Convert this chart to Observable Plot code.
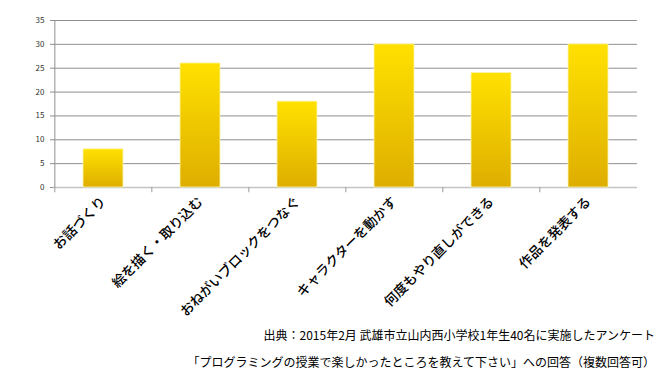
<!DOCTYPE html>
<html><head><meta charset="utf-8">
<script src="https://cdn.jsdelivr.net/npm/d3@7"></script>
<script src="https://cdn.jsdelivr.net/npm/@observablehq/plot@0.6"></script>
<style>
body{margin:0;background:#fff;font-family:"Noto Sans CJK JP","Noto Sans",sans-serif;}
#wrap{position:relative;width:662px;height:374px;}
.cap{position:absolute;right:7px;font-size:12px;color:#000;white-space:nowrap;}
</style></head>
<body><div id="wrap"></div>
<script>
const categories = ["お話づくり","絵を描く・取り込む","おねがいブロックをつなぐ","キャラクターを動かす","何度もやり直しができる","作品を発表する"];
const values = [8, 26, 18, 30, 24, 30];
const yTicks = [0, 5, 10, 15, 20, 25, 30, 35];
const caption1 = "出典：2015年2月 武雄市立山内西小学校1年生40名に実施したアンケート";
const caption2 = "「プログラミングの授業で楽しかったところを教えて下さい」への回答（複数回答可）";

const data = categories.map((c, i) => ({category: c, value: values[i]}));
const W = 662, ML = 53, MR = 25;
const step = (W - ML - MR) / categories.length;

const gradient = () => {
  const defs = d3.create("svg:defs");
  const g = defs.append("linearGradient").attr("id", "gold").attr("x1", 0).attr("y1", 0).attr("x2", 0).attr("y2", 1);
  g.append("stop").attr("offset", "0%").attr("stop-color", "#ffe100");
  g.append("stop").attr("offset", "100%").attr("stop-color", "#deae00");
  return defs.node();
};

const chart = Plot.plot({
  width: W, height: 320,
  marginTop: 20, marginBottom: 133, marginLeft: ML, marginRight: MR,
  style: {fontFamily: '"Noto Sans CJK JP", sans-serif', background: "#fff"},
  x: {domain: categories, paddingInner: 0.59, paddingOuter: 0.295, label: null},
  y: {domain: [0, 35], label: null},
  marks: [
    gradient,
    Plot.gridY(yTicks.filter(d => d > 0), {stroke: "#8f8f8f", strokeOpacity: 1, strokeWidth: 1}),
    Plot.ruleY([0], {stroke: "#c4c4c4", strokeWidth: 1.5}),
    Plot.ruleX([categories[0]], {dx: -step / 2, y1: 0, y2: 35, stroke: "#8f8f8f"}),
    Plot.ruleX(categories, {dx: -step / 2, y1: 0, y2: -1.1, stroke: "#9a9a9a"}),
    Plot.barY(data, {x: "category", y: "value", fill: "url(#gold)", stroke: "#fff4b0", strokeWidth: 0.8}),
    Plot.axisY({ticks: yTicks, tickSize: 3, tickPadding: 6, fontSize: 8, color: "#333", stroke: "#8f8f8f", label: null}),
    Plot.axisX({tickSize: 0, tickRotate: -45, tickPadding: 12, fontSize: 13.5, fontWeight: 500, color: "#000", label: null})
  ]
});
chart.style.display = "block";
const wrap = document.getElementById("wrap");
wrap.appendChild(chart);
const c1 = document.createElement("div"); c1.className = "cap"; c1.style.top = "326px"; c1.textContent = caption1;
const c2 = document.createElement("div"); c2.className = "cap"; c2.style.top = "353px"; c2.textContent = caption2;
wrap.appendChild(c1); wrap.appendChild(c2);
</script></body></html>
